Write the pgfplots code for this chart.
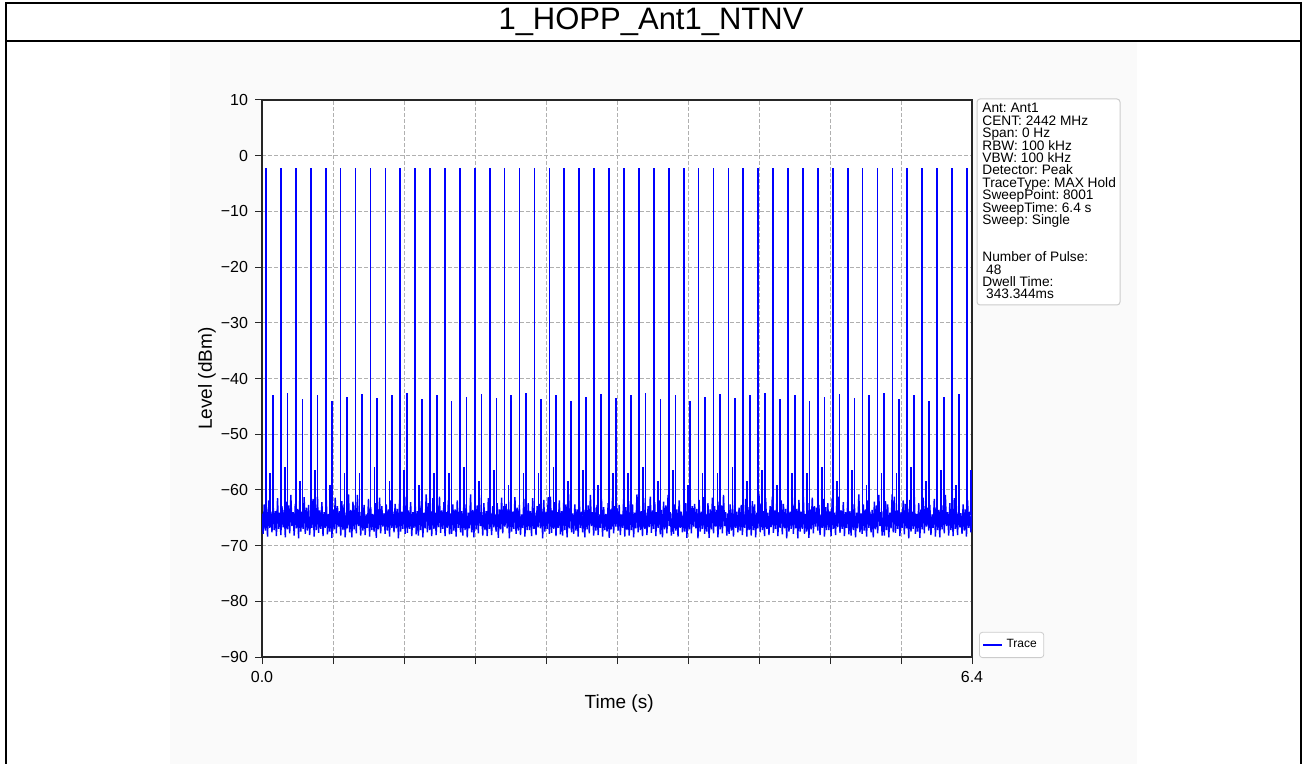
\documentclass[border=0pt]{standalone}
\usepackage{fontspec}
\setmainfont{Liberation Sans}
\usepackage{pgfplots}
\pgfplotsset{compat=1.18}
\definecolor{tracebl}{RGB}{0,0,255}
\definecolor{figbg}{RGB}{250,250,250}
\definecolor{gridc}{RGB}{176,176,176}
\definecolor{boxc}{RGB}{204,204,204}
\lineskiplimit=-10pt
\frenchspacing
\begin{document}
\begin{tikzpicture}
\path[use as bounding box] (0pt,0pt) rectangle (651pt,-382pt);
\fill[white] (0pt,0pt) rectangle (651pt,-382pt);
\fill[figbg] (85pt,-21pt) rectangle (568.5pt,-382pt);
\draw[line width=1pt] (2.75pt,-382pt) -- (2.75pt,-1.5pt) -- (650.25pt,-1.5pt) -- (650.25pt,-382pt);
\draw[line width=1pt] (2.75pt,-20.5pt) -- (650.25pt,-20.5pt);
\node[font=\fontsize{15.5}{18}\selectfont] at (325.5pt,-11pt) {1\_HOPP\_Ant1\_NTNV};

\begin{axis}[
    at={(131pt,-328.5pt)}, anchor=south west,
    scale only axis, width=355pt, height=278.5pt,
    xmin=0, xmax=6400, ymin=-90, ymax=10,
    xtick={0,640,...,6400}, xticklabels={0.0,,,,,,,,,,6.4},
    ytick={-90,-80,...,10},
    yticklabels={−90,−80,−70,−60,−50,−40,−30,−20,−10,0,10},
    xtick pos=bottom, ytick pos=left,
    tick align=outside, major tick length=3.5pt,
    tick style={black!85, line width=0.5pt},
    grid=major,
    major grid style={gridc, dash pattern=on 2pt off 1pt, line width=0.4pt},
    axis line style={black!85, line width=0.6pt},
    tick label style={font=\fontsize{8}{9.6}\selectfont},
    xlabel={Time (s)}, ylabel={Level (dBm)},
    label style={font=\fontsize{9.5}{11}\selectfont},
    xlabel style={at={(axis description cs:0.503,-0.084)}, anchor=center},
    ylabel style={at={(axis description cs:-0.0775,0.5)}, anchor=center},
    axis background/.style={fill=white},
    unbounded coords=jump,
    legend style={at={(1,0)}, anchor=south west, xshift=3.5pt, yshift=-0.5pt,
        font=\fontsize{6}{7}\selectfont, draw=boxc, rounded corners=1.5pt, inner sep=1.5pt},
    legend cell align=left,
    legend image code/.code={\draw[#1, line width=0.6pt] (0pt,0pt) -- (9.5pt,0pt);},
]
% noise floor, 10 ms steps
\addplot[tracebl, line width=0.7pt] coordinates {
(0,-64.2)(10,-67.9)(20,-62.6)(30,-67.3)(40,-63.5)(50,-68.4)(60,-61.9)(70,-66.8)(80,-63.9)(90,-67.6)
(100,-62.4)(110,-67.2)(120,-63.8)(130,-68.3)(140,-61.5)(150,-67.0)(160,-64.1)(170,-68.1)(180,-62.9)(190,-66.7)
(200,-63.6)(210,-68.5)(220,-62.1)(230,-67.1)(240,-62.8)(250,-67.8)(260,-60.9)(270,-66.5)(280,-64.0)(290,-68.2)
(300,-62.5)(310,-66.9)(320,-63.4)(330,-68.7)(340,-61.8)(350,-67.5)(360,-63.9)(370,-67.0)(380,-61.3)(390,-67.9)
(400,-63.2)(410,-67.3)(420,-62.7)(430,-68.1)(440,-64.4)(450,-66.8)(460,-61.6)(470,-68.4)(480,-63.1)(490,-67.2)
(500,-61.2)(510,-67.7)(520,-63.7)(530,-67.0)(540,-62.2)(550,-68.3)(560,-64.0)(570,-66.8)(580,-61.9)(590,-68.0)
(600,-64.3)(610,-67.5)(620,-62.4)(630,-68.6)(640,-63.5)(650,-67.1)(660,-61.4)(670,-67.8)(680,-62.9)(690,-66.6)
(700,-63.8)(710,-68.2)(720,-62.0)(730,-67.2)(740,-62.6)(750,-68.5)(760,-64.1)(770,-66.9)(780,-60.8)(790,-67.6)
(800,-63.6)(810,-68.5)(820,-62.1)(830,-67.1)(840,-62.8)(850,-67.8)(860,-60.9)(870,-66.5)(880,-64.0)(890,-68.2)
(900,-63.2)(910,-67.3)(920,-62.7)(930,-68.1)(940,-64.4)(950,-66.8)(960,-61.6)(970,-68.4)(980,-63.1)(990,-67.2)
(1000,-64.3)(1010,-67.5)(1020,-62.4)(1030,-68.6)(1040,-63.5)(1050,-67.1)(1060,-61.4)(1070,-67.8)(1080,-62.9)(1090,-66.6)
(1100,-64.2)(1110,-67.9)(1120,-62.6)(1130,-67.3)(1140,-63.5)(1150,-68.4)(1160,-61.9)(1170,-66.8)(1180,-63.9)(1190,-67.6)
(1200,-62.5)(1210,-66.9)(1220,-63.4)(1230,-68.7)(1240,-61.8)(1250,-67.5)(1260,-63.9)(1270,-67.0)(1280,-61.3)(1290,-67.9)
(1300,-61.2)(1310,-67.7)(1320,-63.7)(1330,-67.0)(1340,-62.2)(1350,-68.3)(1360,-64.0)(1370,-66.8)(1380,-61.9)(1390,-68.0)
(1400,-63.8)(1410,-68.2)(1420,-62.0)(1430,-67.2)(1440,-62.6)(1450,-68.5)(1460,-64.1)(1470,-66.9)(1480,-60.8)(1490,-67.6)
(1500,-62.4)(1510,-67.2)(1520,-63.8)(1530,-68.3)(1540,-61.5)(1550,-67.0)(1560,-64.1)(1570,-68.1)(1580,-62.9)(1590,-66.7)
(1600,-61.2)(1610,-67.7)(1620,-63.7)(1630,-67.0)(1640,-62.2)(1650,-68.3)(1660,-64.0)(1670,-66.8)(1680,-61.9)(1690,-68.0)
(1700,-64.2)(1710,-67.9)(1720,-62.6)(1730,-67.3)(1740,-63.5)(1750,-68.4)(1760,-61.9)(1770,-66.8)(1780,-63.9)(1790,-67.6)
(1800,-63.8)(1810,-68.2)(1820,-62.0)(1830,-67.2)(1840,-62.6)(1850,-68.5)(1860,-64.1)(1870,-66.9)(1880,-60.8)(1890,-67.6)
(1900,-63.6)(1910,-68.5)(1920,-62.1)(1930,-67.1)(1940,-62.8)(1950,-67.8)(1960,-60.9)(1970,-66.5)(1980,-64.0)(1990,-68.2)
(2000,-62.4)(2010,-67.2)(2020,-63.8)(2030,-68.3)(2040,-61.5)(2050,-67.0)(2060,-64.1)(2070,-68.1)(2080,-62.9)(2090,-66.7)
(2100,-64.3)(2110,-67.5)(2120,-62.4)(2130,-68.6)(2140,-63.5)(2150,-67.1)(2160,-61.4)(2170,-67.8)(2180,-62.9)(2190,-66.6)
(2200,-62.5)(2210,-66.9)(2220,-63.4)(2230,-68.7)(2240,-61.8)(2250,-67.5)(2260,-63.9)(2270,-67.0)(2280,-61.3)(2290,-67.9)
(2300,-63.2)(2310,-67.3)(2320,-62.7)(2330,-68.1)(2340,-64.4)(2350,-66.8)(2360,-61.6)(2370,-68.4)(2380,-63.1)(2390,-67.2)
(2400,-62.4)(2410,-67.2)(2420,-63.8)(2430,-68.3)(2440,-61.5)(2450,-67.0)(2460,-64.1)(2470,-68.1)(2480,-62.9)(2490,-66.7)
(2500,-62.5)(2510,-66.9)(2520,-63.4)(2530,-68.7)(2540,-61.8)(2550,-67.5)(2560,-63.9)(2570,-67.0)(2580,-61.3)(2590,-67.9)
(2600,-61.2)(2610,-67.7)(2620,-63.7)(2630,-67.0)(2640,-62.2)(2650,-68.3)(2660,-64.0)(2670,-66.8)(2680,-61.9)(2690,-68.0)
(2700,-63.8)(2710,-68.2)(2720,-62.0)(2730,-67.2)(2740,-62.6)(2750,-68.5)(2760,-64.1)(2770,-66.9)(2780,-60.8)(2790,-67.6)
(2800,-64.2)(2810,-67.9)(2820,-62.6)(2830,-67.3)(2840,-63.5)(2850,-68.4)(2860,-61.9)(2870,-66.8)(2880,-63.9)(2890,-67.6)
(2900,-63.6)(2910,-68.5)(2920,-62.1)(2930,-67.1)(2940,-62.8)(2950,-67.8)(2960,-60.9)(2970,-66.5)(2980,-64.0)(2990,-68.2)
(3000,-63.2)(3010,-67.3)(3020,-62.7)(3030,-68.1)(3040,-64.4)(3050,-66.8)(3060,-61.6)(3070,-68.4)(3080,-63.1)(3090,-67.2)
(3100,-64.3)(3110,-67.5)(3120,-62.4)(3130,-68.6)(3140,-63.5)(3150,-67.1)(3160,-61.4)(3170,-67.8)(3180,-62.9)(3190,-66.6)
(3200,-63.2)(3210,-67.3)(3220,-62.7)(3230,-68.1)(3240,-64.4)(3250,-66.8)(3260,-61.6)(3270,-68.4)(3280,-63.1)(3290,-67.2)
(3300,-63.8)(3310,-68.2)(3320,-62.0)(3330,-67.2)(3340,-62.6)(3350,-68.5)(3360,-64.1)(3370,-66.9)(3380,-60.8)(3390,-67.6)
(3400,-62.4)(3410,-67.2)(3420,-63.8)(3430,-68.3)(3440,-61.5)(3450,-67.0)(3460,-64.1)(3470,-68.1)(3480,-62.9)(3490,-66.7)
(3500,-61.2)(3510,-67.7)(3520,-63.7)(3530,-67.0)(3540,-62.2)(3550,-68.3)(3560,-64.0)(3570,-66.8)(3580,-61.9)(3590,-68.0)
(3600,-63.6)(3610,-68.5)(3620,-62.1)(3630,-67.1)(3640,-62.8)(3650,-67.8)(3660,-60.9)(3670,-66.5)(3680,-64.0)(3690,-68.2)
(3700,-64.2)(3710,-67.9)(3720,-62.6)(3730,-67.3)(3740,-63.5)(3750,-68.4)(3760,-61.9)(3770,-66.8)(3780,-63.9)(3790,-67.6)
(3800,-64.3)(3810,-67.5)(3820,-62.4)(3830,-68.6)(3840,-63.5)(3850,-67.1)(3860,-61.4)(3870,-67.8)(3880,-62.9)(3890,-66.6)
(3900,-62.5)(3910,-66.9)(3920,-63.4)(3930,-68.7)(3940,-61.8)(3950,-67.5)(3960,-63.9)(3970,-67.0)(3980,-61.3)(3990,-67.9)
(4000,-64.3)(4010,-67.5)(4020,-62.4)(4030,-68.6)(4040,-63.5)(4050,-67.1)(4060,-61.4)(4070,-67.8)(4080,-62.9)(4090,-66.6)
(4100,-63.6)(4110,-68.5)(4120,-62.1)(4130,-67.1)(4140,-62.8)(4150,-67.8)(4160,-60.9)(4170,-66.5)(4180,-64.0)(4190,-68.2)
(4200,-64.2)(4210,-67.9)(4220,-62.6)(4230,-67.3)(4240,-63.5)(4250,-68.4)(4260,-61.9)(4270,-66.8)(4280,-63.9)(4290,-67.6)
(4300,-63.2)(4310,-67.3)(4320,-62.7)(4330,-68.1)(4340,-64.4)(4350,-66.8)(4360,-61.6)(4370,-68.4)(4380,-63.1)(4390,-67.2)
(4400,-63.8)(4410,-68.2)(4420,-62.0)(4430,-67.2)(4440,-62.6)(4450,-68.5)(4460,-64.1)(4470,-66.9)(4480,-60.8)(4490,-67.6)
(4500,-62.4)(4510,-67.2)(4520,-63.8)(4530,-68.3)(4540,-61.5)(4550,-67.0)(4560,-64.1)(4570,-68.1)(4580,-62.9)(4590,-66.7)
(4600,-61.2)(4610,-67.7)(4620,-63.7)(4630,-67.0)(4640,-62.2)(4650,-68.3)(4660,-64.0)(4670,-66.8)(4680,-61.9)(4690,-68.0)
(4700,-62.5)(4710,-66.9)(4720,-63.4)(4730,-68.7)(4740,-61.8)(4750,-67.5)(4760,-63.9)(4770,-67.0)(4780,-61.3)(4790,-67.9)
(4800,-62.5)(4810,-66.9)(4820,-63.4)(4830,-68.7)(4840,-61.8)(4850,-67.5)(4860,-63.9)(4870,-67.0)(4880,-61.3)(4890,-67.9)
(4900,-64.3)(4910,-67.5)(4920,-62.4)(4930,-68.6)(4940,-63.5)(4950,-67.1)(4960,-61.4)(4970,-67.8)(4980,-62.9)(4990,-66.6)
(5000,-63.2)(5010,-67.3)(5020,-62.7)(5030,-68.1)(5040,-64.4)(5050,-66.8)(5060,-61.6)(5070,-68.4)(5080,-63.1)(5090,-67.2)
(5100,-62.4)(5110,-67.2)(5120,-63.8)(5130,-68.3)(5140,-61.5)(5150,-67.0)(5160,-64.1)(5170,-68.1)(5180,-62.9)(5190,-66.7)
(5200,-61.2)(5210,-67.7)(5220,-63.7)(5230,-67.0)(5240,-62.2)(5250,-68.3)(5260,-64.0)(5270,-66.8)(5280,-61.9)(5290,-68.0)
(5300,-63.8)(5310,-68.2)(5320,-62.0)(5330,-67.2)(5340,-62.6)(5350,-68.5)(5360,-64.1)(5370,-66.9)(5380,-60.8)(5390,-67.6)
(5400,-64.2)(5410,-67.9)(5420,-62.6)(5430,-67.3)(5440,-63.5)(5450,-68.4)(5460,-61.9)(5470,-66.8)(5480,-63.9)(5490,-67.6)
(5500,-63.6)(5510,-68.5)(5520,-62.1)(5530,-67.1)(5540,-62.8)(5550,-67.8)(5560,-60.9)(5570,-66.5)(5580,-64.0)(5590,-68.2)
(5600,-63.8)(5610,-68.2)(5620,-62.0)(5630,-67.2)(5640,-62.6)(5650,-68.5)(5660,-64.1)(5670,-66.9)(5680,-60.8)(5690,-67.6)
(5700,-61.2)(5710,-67.7)(5720,-63.7)(5730,-67.0)(5740,-62.2)(5750,-68.3)(5760,-64.0)(5770,-66.8)(5780,-61.9)(5790,-68.0)
(5800,-62.5)(5810,-66.9)(5820,-63.4)(5830,-68.7)(5840,-61.8)(5850,-67.5)(5860,-63.9)(5870,-67.0)(5880,-61.3)(5890,-67.9)
(5900,-64.3)(5910,-67.5)(5920,-62.4)(5930,-68.6)(5940,-63.5)(5950,-67.1)(5960,-61.4)(5970,-67.8)(5980,-62.9)(5990,-66.6)
(6000,-63.2)(6010,-67.3)(6020,-62.7)(6030,-68.1)(6040,-64.4)(6050,-66.8)(6060,-61.6)(6070,-68.4)(6080,-63.1)(6090,-67.2)
(6100,-63.6)(6110,-68.5)(6120,-62.1)(6130,-67.1)(6140,-62.8)(6150,-67.8)(6160,-60.9)(6170,-66.5)(6180,-64.0)(6190,-68.2)
(6200,-62.4)(6210,-67.2)(6220,-63.8)(6230,-68.3)(6240,-61.5)(6250,-67.0)(6260,-64.1)(6270,-68.1)(6280,-62.9)(6290,-66.7)
(6300,-64.2)(6310,-67.9)(6320,-62.6)(6330,-67.3)(6340,-63.5)(6350,-68.4)(6360,-61.9)(6370,-66.8)(6380,-63.9)(6390,-67.6)
(6400,-63.8)
};
\addlegendentry{Trace}
% pulses: main burst, small spur, second spur (ms, dBm)
\addplot[tracebl, line width=0.85pt, forget plot] coordinates {
(36,-65.5)(36,-2.2)(36,nan)(72,-64.5)(72,-57.0)(72,nan)(96,-65)(96,-43.0)(96,nan)
(170,-65.5)(170,-2.2)(170,nan)(206,-64.5)(206,-55.8)(206,nan)(230,-65)(230,-42.6)(230,nan)
(305,-65.5)(305,-2.2)(305,nan)(341,-64.5)(341,-58.4)(341,nan)(365,-65)(365,-43.7)(365,nan)
(439,-65.5)(439,-2.2)(439,nan)(475,-64.5)(475,-56.5)(475,nan)(499,-65)(499,-42.9)(499,nan)
(574,-65.5)(574,-2.2)(574,nan)(610,-64.5)(610,-59.2)(610,nan)(634,-65)(634,-44.1)(634,nan)
(708,-65.5)(708,-2.2)(708,nan)(744,-64.5)(744,-56.9)(744,nan)(768,-65)(768,-43.3)(768,nan)
(843,-65.5)(843,-2.2)(843,nan)(879,-64.5)(879,-57.0)(879,nan)(903,-65)(903,-42.7)(903,nan)
(977,-65.5)(977,-2.2)(977,nan)(1013,-64.5)(1013,-55.8)(1013,nan)(1037,-65)(1037,-43.5)(1037,nan)
(1112,-65.5)(1112,-2.2)(1112,nan)(1148,-64.5)(1148,-58.4)(1148,nan)(1172,-65)(1172,-43.0)(1172,nan)
(1246,-65.5)(1246,-2.2)(1246,nan)(1282,-64.5)(1282,-56.5)(1282,nan)(1306,-65)(1306,-42.6)(1306,nan)
(1381,-65.5)(1381,-2.2)(1381,nan)(1417,-64.5)(1417,-59.2)(1417,nan)(1441,-65)(1441,-43.7)(1441,nan)
(1515,-65.5)(1515,-2.2)(1515,nan)(1551,-64.5)(1551,-56.9)(1551,nan)(1575,-65)(1575,-42.9)(1575,nan)
(1649,-65.5)(1649,-2.2)(1649,nan)(1685,-64.5)(1685,-57.0)(1685,nan)(1709,-65)(1709,-44.1)(1709,nan)
(1784,-65.5)(1784,-2.2)(1784,nan)(1820,-64.5)(1820,-55.8)(1820,nan)(1844,-65)(1844,-43.3)(1844,nan)
(1918,-65.5)(1918,-2.2)(1918,nan)(1954,-64.5)(1954,-58.4)(1954,nan)(1978,-65)(1978,-42.7)(1978,nan)
(2053,-65.5)(2053,-2.2)(2053,nan)(2089,-64.5)(2089,-56.5)(2089,nan)(2113,-65)(2113,-43.5)(2113,nan)
(2187,-65.5)(2187,-2.2)(2187,nan)(2223,-64.5)(2223,-59.2)(2223,nan)(2247,-65)(2247,-43.0)(2247,nan)
(2322,-65.5)(2322,-2.2)(2322,nan)(2358,-64.5)(2358,-56.9)(2358,nan)(2382,-65)(2382,-42.6)(2382,nan)
(2456,-65.5)(2456,-2.2)(2456,nan)(2492,-64.5)(2492,-57.0)(2492,nan)(2516,-65)(2516,-43.7)(2516,nan)
(2591,-65.5)(2591,-2.2)(2591,nan)(2627,-64.5)(2627,-55.8)(2627,nan)(2651,-65)(2651,-42.9)(2651,nan)
(2725,-65.5)(2725,-2.2)(2725,nan)(2761,-64.5)(2761,-58.4)(2761,nan)(2785,-65)(2785,-44.1)(2785,nan)
(2859,-65.5)(2859,-2.2)(2859,nan)(2895,-64.5)(2895,-56.5)(2895,nan)(2919,-65)(2919,-43.3)(2919,nan)
(2994,-65.5)(2994,-2.2)(2994,nan)(3030,-64.5)(3030,-59.2)(3030,nan)(3054,-65)(3054,-42.7)(3054,nan)
(3128,-65.5)(3128,-2.2)(3128,nan)(3164,-64.5)(3164,-56.9)(3164,nan)(3188,-65)(3188,-43.5)(3188,nan)
(3263,-65.5)(3263,-2.2)(3263,nan)(3299,-64.5)(3299,-57.0)(3299,nan)(3323,-65)(3323,-43.0)(3323,nan)
(3397,-65.5)(3397,-2.2)(3397,nan)(3433,-64.5)(3433,-55.8)(3433,nan)(3457,-65)(3457,-42.6)(3457,nan)
(3532,-65.5)(3532,-2.2)(3532,nan)(3568,-64.5)(3568,-58.4)(3568,nan)(3592,-65)(3592,-43.7)(3592,nan)
(3666,-65.5)(3666,-2.2)(3666,nan)(3702,-64.5)(3702,-56.5)(3702,nan)(3726,-65)(3726,-42.9)(3726,nan)
(3801,-65.5)(3801,-2.2)(3801,nan)(3837,-64.5)(3837,-59.2)(3837,nan)(3861,-65)(3861,-44.1)(3861,nan)
(3935,-65.5)(3935,-2.2)(3935,nan)(3971,-64.5)(3971,-56.9)(3971,nan)(3995,-65)(3995,-43.3)(3995,nan)
(4070,-65.5)(4070,-2.2)(4070,nan)(4106,-64.5)(4106,-57.0)(4106,nan)(4130,-65)(4130,-42.7)(4130,nan)
(4204,-65.5)(4204,-2.2)(4204,nan)(4240,-64.5)(4240,-55.8)(4240,nan)(4264,-65)(4264,-43.5)(4264,nan)
(4338,-65.5)(4338,-2.2)(4338,nan)(4374,-64.5)(4374,-58.4)(4374,nan)(4398,-65)(4398,-43.0)(4398,nan)
(4473,-65.5)(4473,-2.2)(4473,nan)(4509,-64.5)(4509,-56.5)(4509,nan)(4533,-65)(4533,-42.6)(4533,nan)
(4607,-65.5)(4607,-2.2)(4607,nan)(4643,-64.5)(4643,-59.2)(4643,nan)(4667,-65)(4667,-43.7)(4667,nan)
(4742,-65.5)(4742,-2.2)(4742,nan)(4778,-64.5)(4778,-56.9)(4778,nan)(4802,-65)(4802,-42.9)(4802,nan)
(4876,-65.5)(4876,-2.2)(4876,nan)(4912,-64.5)(4912,-57.0)(4912,nan)(4936,-65)(4936,-44.1)(4936,nan)
(5011,-65.5)(5011,-2.2)(5011,nan)(5047,-64.5)(5047,-55.8)(5047,nan)(5071,-65)(5071,-43.3)(5071,nan)
(5145,-65.5)(5145,-2.2)(5145,nan)(5181,-64.5)(5181,-58.4)(5181,nan)(5205,-65)(5205,-42.7)(5205,nan)
(5280,-65.5)(5280,-2.2)(5280,nan)(5316,-64.5)(5316,-56.5)(5316,nan)(5340,-65)(5340,-43.5)(5340,nan)
(5414,-65.5)(5414,-2.2)(5414,nan)(5450,-64.5)(5450,-59.2)(5450,nan)(5474,-65)(5474,-43.0)(5474,nan)
(5548,-65.5)(5548,-2.2)(5548,nan)(5584,-64.5)(5584,-56.9)(5584,nan)(5608,-65)(5608,-42.6)(5608,nan)
(5683,-65.5)(5683,-2.2)(5683,nan)(5719,-64.5)(5719,-57.0)(5719,nan)(5743,-65)(5743,-43.7)(5743,nan)
(5817,-65.5)(5817,-2.2)(5817,nan)(5853,-64.5)(5853,-55.8)(5853,nan)(5877,-65)(5877,-42.9)(5877,nan)
(5952,-65.5)(5952,-2.2)(5952,nan)(5988,-64.5)(5988,-58.4)(5988,nan)(6012,-65)(6012,-44.1)(6012,nan)
(6086,-65.5)(6086,-2.2)(6086,nan)(6122,-64.5)(6122,-56.5)(6122,nan)(6146,-65)(6146,-43.3)(6146,nan)
(6221,-65.5)(6221,-2.2)(6221,nan)(6257,-64.5)(6257,-59.2)(6257,nan)(6281,-65)(6281,-42.7)(6281,nan)
(6355,-65.5)(6355,-2.2)(6355,nan)(6391,-64.5)(6391,-56.4)(6391,nan)
};
\end{axis}

\draw[boxc, line width=0.5pt, fill=white, rounded corners=1.5pt] (488.5pt,-49.5pt) rectangle (560pt,-152.5pt);
\node[anchor=north west, inner sep=0pt, align=left, font=\fontsize{6.85}{6.2}\selectfont] at (491pt,-51.5pt) {%
Ant: Ant1\\ CENT: 2442 MHz\\ Span: 0 Hz\\ RBW: 100 kHz\\ VBW: 100 kHz\\ Detector: Peak\\
TraceType: MAX Hold\\ SweepPoint: 8001\\ SweepTime: 6.4 s\\ Sweep: Single\\ \mbox{}\\ \mbox{}\\
Number of Pulse:\\ \ 48\\ Dwell Time:\\ \ 343.344ms};
\end{tikzpicture}
\end{document}
